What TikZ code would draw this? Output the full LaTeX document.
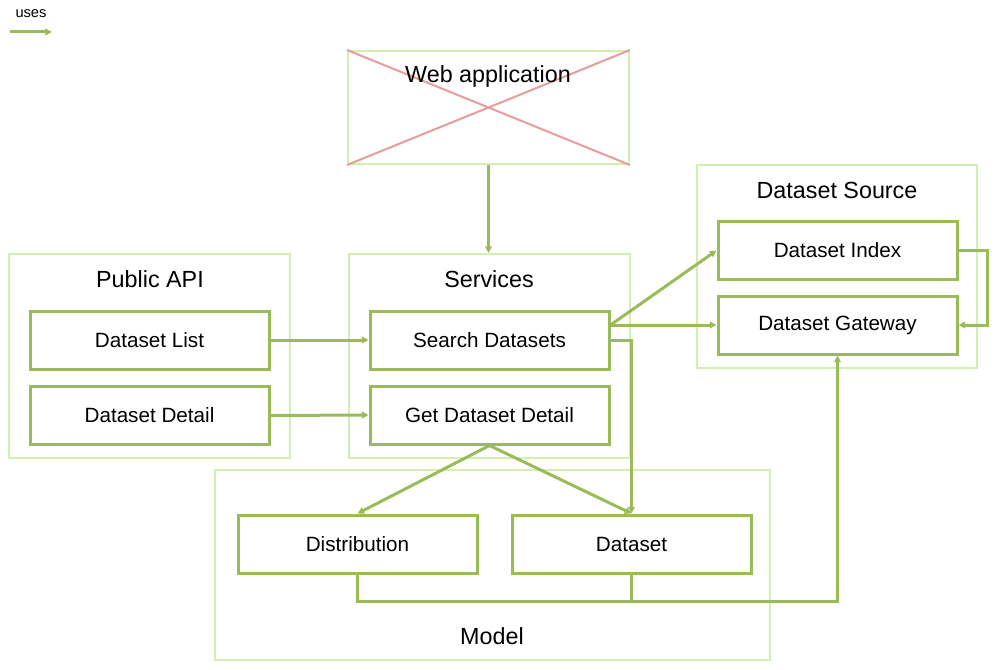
\documentclass[tikz,border=0pt]{standalone}
\usepackage{fontspec}
\setmainfont{Liberation Sans}
\usetikzlibrary{arrows.meta}
\definecolor{dkg}{HTML}{9BBB59}
\definecolor{ltg}{HTML}{D5EFB3}
\definecolor{xred}{HTML}{E89C9C}
\tikzset{
  box/.style={draw=dkg, line width=2.25pt, minimum width=179.25pt, minimum height=43.5pt, inner sep=0pt, font=\fontsize{15.5}{18}\selectfont},
  cont/.style={draw=ltg, line width=1.5pt, inner sep=0pt},
  ttl/.style={font=\fontsize{17.5}{20}\selectfont, inner sep=0pt},
  link/.style={draw=dkg, line width=2.25pt},
  arr/.style={link, -{Triangle[length=5pt,width=5pt]}}
}
\begin{document}
\begin{tikzpicture}[x=0.75pt,y=-0.75pt]
\useasboundingbox (0,0) rectangle (1006,670);
% legend
\node[font=\fontsize{11}{13}\selectfont, inner sep=0pt] (legtxt) at (31,14) {uses};
\coordinate (l1) at (10,32);
\coordinate (l2) at (52,32);
\draw[arr] (l1) -- (l2);
% containers
\node[cont, minimum width=210.75pt, minimum height=84.75pt] (web) at (488.5,107.5) {};
\draw[xred, line width=1.5pt] (web.north west) -- (web.south east) (web.north east) -- (web.south west);
\node[ttl] (webt) at (488,76) {Web application};
\node[cont, minimum width=210.75pt, minimum height=153pt] (papi) at (149.5,356) {};
\node[ttl] (papit) at (150,279) {Public API};
\node[cont, minimum width=210.75pt, minimum height=153pt] (serv) at (489.5,356) {};
\node[ttl] (servt) at (489,279) {Services};
\node[cont, minimum width=210pt, minimum height=152.25pt] (dsrc) at (837,266.5) {};
\node[ttl] (dsrct) at (837,190) {Dataset Source};
\node[cont, minimum width=416.25pt, minimum height=142.5pt] (model) at (492.5,565) {};
\node[ttl] (modelt) at (492,636) {Model};
% boxes
\node[box] (dl) at (149.5,340) {Dataset List};
\node[box] (dd) at (149.5,415.5) {Dataset Detail};
\node[box] (sd) at (489.5,340) {Search Datasets};
\node[box] (gdd) at (489.5,415) {Get Dataset Detail};
\node[box] (di) at (837.5,250.5) {Dataset Index};
\node[box] (gw) at (837.5,325) {Dataset Gateway};
\node[box] (dist) at (357.5,544) {Distribution};
\node[box] (ds) at (631.5,544) {Dataset};
% connectors
\draw[arr] (web.south) -- (web.south |- serv.north);
\draw[arr] (dl.east) -- (sd.west);
\draw[arr] (dd.east) -- (gdd.west);
\draw[arr] ([yshift=11.25pt]sd.east) -- (di.west);
\draw[arr] ([yshift=11.25pt]sd.east) -- (gw.west);
\draw[arr] (sd.east) -| (ds.north);
\draw[arr] (gdd.south) -- (dist.north);
\draw[arr] (gdd.south) -- (ds.north);
\draw[arr] (di.east) -- ++(29,0) |- (gw.east);
\draw[arr] (dist.south) -- ++(0,27) -| (gw.south);
\draw[link] (ds.south) -- ++(0,27);
\end{tikzpicture}
\end{document}
